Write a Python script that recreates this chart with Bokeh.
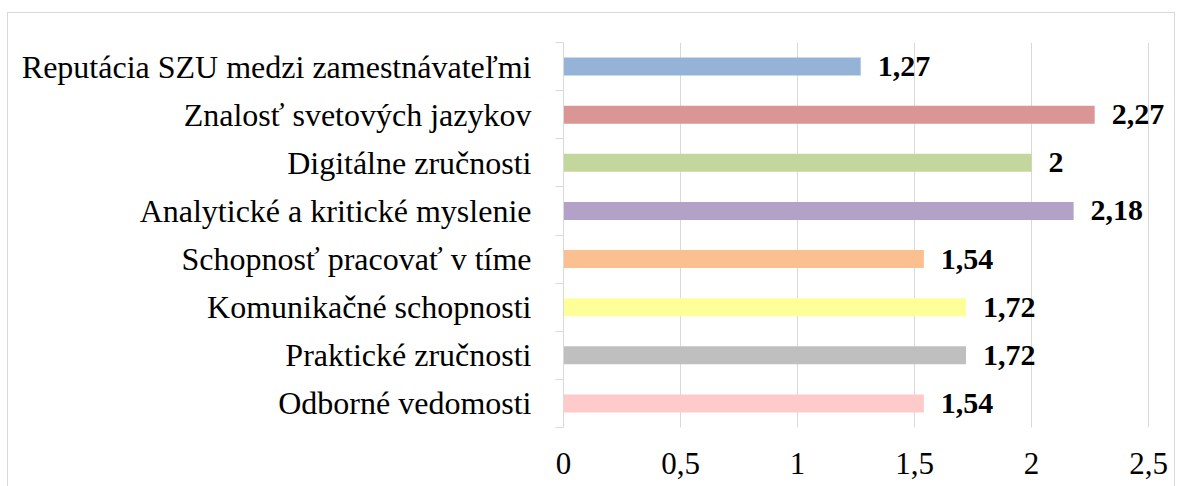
from bokeh.plotting import figure
from bokeh.models import Range1d, FixedTicker, ColumnDataSource
from bokeh.core.properties import value
from bokeh.embed import file_html
from bokeh.resources import INLINE

# Data (bottom to top, as in the reference)
categories = [
    "Odborné vedomosti",
    "Praktické zručnosti",
    "Komunikačné schopnosti",
    "Schopnosť pracovať v tíme",
    "Analytické a kritické myslenie",
    "Digitálne zručnosti",
    "Znalosť svetových jazykov",
    "Reputácia SZU medzi zamestnávateľmi",
]
values = [1.54, 1.72, 1.72, 1.54, 2.18, 2.0, 2.27, 1.27]
colors = ["#FFCACA", "#BFBFBF", "#FFFF99", "#FAC090", "#B3A2C7", "#C3D69B", "#D99694", "#95B3D7"]
x_ticks = [0, 0.5, 1, 1.5, 2, 2.5]
x_tick_labels = ["0", "0,5", "1", "1,5", "2", "2,5"]

idx = list(range(len(categories)))
value_labels = [("%g" % v).replace(".", ",") for v in values]

FONT = "'Liberation Serif', 'Times New Roman', serif"
GRID = "#d9d9d9"

src = ColumnDataSource(dict(y=idx, v=values, c=colors, lab=value_labels))

p = figure(
    width=1168, height=474,
    x_range=Range1d(0, 2.594),
    y_range=Range1d(-0.5, len(categories) - 0.5),
    output_backend="svg", toolbar_location=None,
    min_border_left=555, min_border_right=6, min_border_top=29, min_border_bottom=60,
)
p.outline_line_color = None
p.background_fill_color = "white"

p.hbar(y="y", right="v", left=0, height=0.375, fill_color="c", line_color=None, source=src)
p.text(x="v", y="y", text="lab", source=src, x_offset=17,
       text_font=value(FONT), text_font_style="bold", text_font_size="30px",
       text_align="left", text_baseline="middle", text_color="black")

# x axis
xa = p.xaxis[0]
xa.ticker = FixedTicker(ticks=x_ticks)
xa.major_label_overrides = {t: l for t, l in zip(x_ticks, x_tick_labels)}
xa.axis_line_color = None
xa.major_tick_line_color = None
xa.minor_tick_line_color = None
xa.major_label_text_font = FONT
xa.major_label_text_font_size = "31px"
xa.major_label_text_color = "black"
xa.major_label_standoff = 19

p.xgrid.ticker = FixedTicker(ticks=x_ticks)
p.xgrid.grid_line_color = GRID
p.xgrid.grid_line_width = 1
p.ygrid.grid_line_color = None

# y axis
ya = p.yaxis[0]
boundaries = [i - 0.5 for i in range(len(categories) + 1)]
ya.ticker = FixedTicker(ticks=idx, minor_ticks=boundaries)
ya.major_label_overrides = {i: c for i, c in zip(idx, categories)}
ya.axis_line_color = GRID
ya.major_tick_line_color = None
ya.major_tick_out = 0
ya.major_tick_in = 0
ya.minor_tick_line_color = GRID
ya.minor_tick_out = 8
ya.minor_tick_in = 0
ya.major_label_text_font = FONT
ya.major_label_text_font_size = "32px"
ya.major_label_text_color = "black"
ya.major_label_standoff = 24

p.styles = {
    "margin-top": "12px",
    "margin-left": "7px",
    "border-top": "1px solid #d9d9d9",
    "border-left": "1px solid #d9d9d9",
    "border-right": "1px solid #d9d9d9",
}

open("out.html", "w").write(file_html(p, INLINE))
